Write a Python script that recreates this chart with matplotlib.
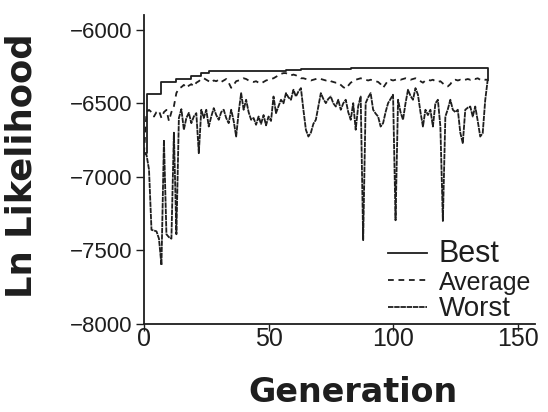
import numpy as np
import matplotlib
matplotlib.use("Agg")
import matplotlib.pyplot as plt

# ---------------- data ----------------
generations = np.arange(139)

worst = [
    -6840, -6850, -6950, -7360, -7365, -7370, -7420, -7600, -6750, -7390,
    -7410, -7420, -6700, -7390, -6600, -6540, -6680, -6600, -6565, -6635,
    -6590, -6567, -6839, -6544, -6600, -6544, -6658, -6590, -6533, -6580,
    -6612, -6560, -6544, -6600, -6635, -6544, -6620, -6726, -6560, -6431,
    -6544, -6476, -6560, -6612, -6600, -6646, -6590, -6640, -6580, -6650,
    -6590, -6620, -6454, -6567, -6520, -6476, -6500, -6431, -6460, -6476,
    -6408, -6454, -6420, -6397, -6544, -6680, -6726, -6700, -6640, -6612,
    -6522, -6431, -6470, -6499, -6470, -6454, -6500, -6522, -6476, -6544,
    -6500, -6476, -6560, -6612, -6499, -6680, -6520, -6454, -7430, -6499,
    -6460, -6431, -6544, -6570, -6590, -6658, -6635, -6560, -6499, -6470,
    -6442, -7295, -6476, -6560, -6612, -6500, -6408, -6450, -6476, -6397,
    -6442, -6560, -6658, -6544, -6580, -6544, -6658, -6500, -6476, -6658,
    -7300, -6590, -6540, -6476, -6544, -6560, -6544, -6700, -6771, -6544,
    -6530, -6522, -6590, -6522, -6620, -6726, -6703, -6480, -6340,
]

average = [
    -6840, -6560, -6545, -6560, -6590, -6560, -6550, -6600, -6560, -6545,
    -6620, -6560, -6520, -6430, -6400, -6390, -6375, -6395, -6380, -6370,
    -6385, -6360, -6350, -6335, -6330, -6340, -6350, -6360, -6345, -6350,
    -6340, -6355, -6345, -6335, -6360, -6395, -6375, -6350, -6345, -6340,
    -6330, -6335, -6345, -6350, -6355, -6350, -6360, -6365, -6355, -6345,
    -6340, -6335, -6330, -6320, -6310, -6300, -6295, -6295, -6305, -6310,
    -6305, -6310, -6320, -6330, -6330, -6335, -6340, -6345, -6340, -6335,
    -6330, -6335, -6340, -6345, -6340, -6350, -6355, -6360, -6360, -6375,
    -6390, -6400, -6380, -6360, -6350, -6340, -6335, -6330, -6335, -6340,
    -6345, -6340, -6345, -6350, -6355, -6370, -6395, -6370, -6345, -6340,
    -6345, -6340, -6335, -6340, -6335, -6330, -6335, -6340, -6335, -6330,
    -6340, -6350, -6360, -6345, -6340, -6345, -6340, -6350, -6355, -6350,
    -6365, -6380, -6385, -6370, -6345, -6340, -6345, -6340, -6345, -6340,
    -6335, -6340, -6330, -6335, -6330, -6340, -6335, -6340, -6340,
]

best_gen = [0, 1, 7, 13, 19, 23, 26, 57, 63, 83, 138, 138]
best_val = [-6840, -6440, -6352, -6336, -6315, -6295, -6280, -6274, -6268,
            -6257, -6257, -6340]

x_ticks = [0, 50, 100, 150]
y_ticks = [-8000, -7500, -7000, -6500, -6000]
labels = ["Best", "Average", "Worst"]

# ---------------- figure ----------------
ink = "#1e1e1e"
fig = plt.figure(figsize=(5.48, 4.12), dpi=100)
fig.patch.set_facecolor("white")
ax = fig.add_axes([0.2628, 0.2136, 0.7135, 0.75])

ax.plot(best_gen, best_val, color=ink, lw=1.3, drawstyle="steps-post",
        label=labels[0])
ax.plot(generations, average, color=ink, lw=1.3, linestyle=(0, (3.2, 2.6)),
        label=labels[1])
ax.plot(generations, worst, color=ink, lw=1.3, linestyle=(0, (3.0, 0.45)),
        label=labels[2])

ax.set_xlim(0, 157)
ax.set_ylim(-8000, -5900)
ax.set_xticks(x_ticks)
ax.set_yticks(y_ticks)
ax.set_xticklabels([str(v) for v in x_ticks])
ax.set_yticklabels(["\u2212%d" % abs(v) for v in y_ticks])

for s in ["top", "right"]:
    ax.spines[s].set_visible(False)
for s in ["left", "bottom"]:
    ax.spines[s].set_color(ink)
    ax.spines[s].set_linewidth(1.3)

ax.tick_params(axis="x", direction="out", length=5, width=1.0, color=ink,
               pad=-3, labelsize=18, labelcolor=ink)
ax.tick_params(axis="y", direction="out", length=6, width=1.0, color=ink,
               pad=2.5, labelsize=16, labelcolor=ink)
for t in ax.get_xticklabels() + ax.get_yticklabels():
    t.set_family("Liberation Sans")

fig.text(0.040, 0.597, "Ln Likelihood", rotation=90, ha="center",
         va="center", fontsize=25.5, fontweight="bold", family="DejaVu Sans",
         color=ink)
fig.text(0.644, 0.024, "Generation", ha="center", va="baseline",
         fontsize=24, fontweight="bold", family="DejaVu Sans", color=ink)

leg = ax.legend(loc="upper left", bbox_to_anchor=(0.625, 0.274),
                frameon=False, handlelength=1.45,
                handletextpad=0.45, labelspacing=0.05, borderpad=0,
                borderaxespad=0, prop={"family": "Liberation Sans", "size": 19})
for t, s in zip(leg.get_texts(), [22, 18, 20]):
    t.set_fontsize(s)
    t.set_color(ink)

fig.savefig("out.png", dpi=100, facecolor="white")
